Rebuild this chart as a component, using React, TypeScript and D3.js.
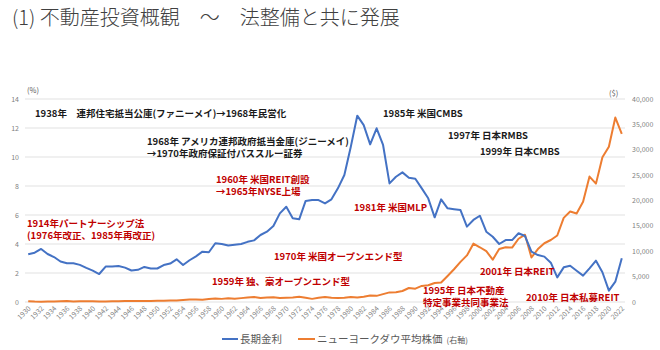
import * as d3 from 'd3'
import { useEffect, useRef } from 'react'

// categories: years 1930-2022
const years: number[] = d3.range(1930, 2023)

// 長期金利 (%)
const rates: number[] = [
  3.29, 3.40, 3.66, 3.31, 3.10, 2.79, 2.67, 2.67, 2.56, 2.35,
  2.16, 1.93, 2.44, 2.44, 2.48, 2.37, 2.17, 2.22, 2.42, 2.31,
  2.31, 2.55, 2.65, 2.94, 2.55, 2.88, 3.15, 3.47, 3.43, 4.05,
  4.00, 3.90, 3.95, 4.00, 4.15, 4.25, 4.62, 4.85, 5.24, 6.11,
  6.57, 5.77, 5.70, 6.97, 7.03, 7.03, 6.80, 7.08, 7.84, 8.76,
  10.71, 12.85, 12.20, 10.87, 11.98, 10.83, 8.18, 8.64, 8.94, 8.57,
  8.50, 7.84, 7.15, 5.84, 7.08, 6.46, 6.40, 6.34, 5.20, 5.66,
  5.95, 4.85, 4.50, 4.00, 4.27, 4.27, 4.74, 4.55, 3.47, 3.24,
  3.13, 2.71, 1.70, 2.39, 2.50, 2.16, 1.82, 2.32, 2.85, 2.05,
  0.78, 1.40, 3.01,
]

// ニューヨークダウ平均株価 ($)
const dow: number[] = [
  164, 78, 60, 100, 104, 144, 180, 121, 155, 150,
  131, 111, 119, 136, 152, 193, 177, 181, 177, 200,
  235, 269, 292, 281, 404, 488, 500, 436, 584, 679,
  616, 731, 652, 763, 874, 969, 786, 905, 944, 800,
  839, 890, 1020, 851, 616, 852, 1005, 831, 805, 839,
  964, 875, 1047, 1259, 1212, 1547, 1896, 1939, 2169, 2753,
  2634, 3169, 3301, 3754, 3834, 5117, 6448, 7908, 9181, 11497,
  10787, 10022, 8342, 10454, 10783, 10718, 12463, 13265, 8776, 10428,
  11578, 12218, 13104, 16577, 17823, 17425, 19763, 24719, 23327, 28538,
  30606, 36338, 33147,
]

const leftTicks: number[] = [0, 2, 4, 6, 8, 10, 12, 14]
const rightTicks: number[] = [0, 5000, 10000, 15000, 20000, 25000, 30000, 35000, 40000]
const xTickYears: number[] = years.filter(y => (y - 1930) % 2 === 0)

const seriesNames: string[] = ['長期金利', 'ニューヨークダウ平均株価']

// annotation texts (layout in px)
const notes = [
  { lines: ['1938年　連邦住宅抵当公庫(ファニーメイ)→1968年民営化'], x: 35, y: 117, red: false },
  { lines: ['1968年 アメリカ連邦政府抵当金庫(ジニーメイ)', '→1970年政府保証付パススルー証券'], x: 147, y: 145, red: false },
  { lines: ['1985年 米国CMBS'], x: 383, y: 117, red: false },
  { lines: ['1997年 日本RMBS'], x: 448, y: 139, red: false },
  { lines: ['1999年 日本CMBS'], x: 480, y: 155, red: false },
  { lines: ['1914年パートナーシップ法', '(1976年改正、1985年再改正)'], x: 27, y: 227, red: true },
  { lines: ['1960年 米国REIT創設', '→1965年NYSE上場'], x: 216, y: 183, red: true },
  { lines: ['1981年 米国MLP'], x: 354, y: 211, red: true },
  { lines: ['1970年 米国オープンエンド型'], x: 274, y: 260, red: true },
  { lines: ['1959年 独、豪オープンエンド型'], x: 212, y: 285, red: true },
  { lines: ['1995年 日本不動産', '特定事業共同事業法'], x: 423, y: 294, red: true },
  { lines: ['2001年 日本REIT'], x: 480, y: 275, red: true },
  { lines: ['2010年 日本私募REIT'], x: 526, y: 301, red: true },
]

const FONT = '"Noto Sans CJK JP", "Noto Sans", sans-serif'

function drawChart(el: SVGSVGElement) {
  const svg = d3.select(el)
  svg.selectAll('*').remove()

  const x = d3.scaleBand<number>().domain(years).range([25, 625])
  const cx = (yr: number) => (x(yr) as number) + x.bandwidth() / 2
  const yL = d3.scaleLinear().domain([0, 14]).range([302, 99])
  const yR = d3.scaleLinear().domain([0, 40000]).range([302, 99])

  // title
  svg.append('text').attr('x', 12).attr('y', 25)
    .attr('font-family', FONT).attr('font-size', 20).attr('font-weight', 300)
    .attr('fill', '#404040').text('(1) 不動産投資概観　～　法整備と共に発展')

  // grid
  svg.append('g').selectAll('line').data(leftTicks).enter().append('line')
    .attr('x1', 25).attr('x2', 625)
    .attr('y1', d => yL(d)).attr('y2', d => yL(d))
    .attr('stroke', '#d9d9d9').attr('stroke-width', 0.8)

  // left axis labels
  svg.append('g').selectAll('text').data(leftTicks).enter().append('text')
    .attr('x', 19).attr('y', d => yL(d) + 2.5).attr('text-anchor', 'end')
    .attr('font-family', FONT).attr('font-size', 7).attr('fill', '#7f7f7f')
    .text(d => d)
  svg.append('text').attr('x', 27).attr('y', 93)
    .attr('font-family', FONT).attr('font-size', 7.5).attr('fill', '#595959').text('(%)')

  // right axis labels
  svg.append('g').selectAll('text').data(rightTicks).enter().append('text')
    .attr('x', 632).attr('y', d => yR(d) + 2.5)
    .attr('font-family', FONT).attr('font-size', 7).attr('fill', '#7f7f7f')
    .text(d => d3.format(',')(d))
  svg.append('text').attr('x', 609).attr('y', 96)
    .attr('font-family', FONT).attr('font-size', 7.5).attr('fill', '#595959').text('($)')

  // x labels
  svg.append('g').selectAll('text').data(xTickYears).enter().append('text')
    .attr('text-anchor', 'end')
    .attr('transform', d => `translate(${cx(d) + 3},${309}) rotate(-45)`)
    .attr('font-family', FONT).attr('font-size', 7).attr('fill', '#7f7f7f')
    .text(d => d)

  // lines
  const lineL = d3.line<number>().x((_, i) => cx(years[i])).y(d => yL(d))
  const lineR = d3.line<number>().x((_, i) => cx(years[i])).y(d => yR(d))
  svg.append('path').datum(dow).attr('d', lineR)
    .attr('fill', 'none').attr('stroke', '#ED7D31').attr('stroke-width', 2)
    .attr('stroke-linejoin', 'round')
  svg.append('path').datum(rates).attr('d', lineL)
    .attr('fill', 'none').attr('stroke', '#4472C4').attr('stroke-width', 2)
    .attr('stroke-linejoin', 'round')

  // annotations
  const ng = svg.append('g').attr('font-family', FONT).attr('font-size', 9.5).attr('font-weight', 'bold')
  notes.forEach(n => {
    n.lines.forEach((ln, i) => {
      ng.append('text').attr('x', n.x).attr('y', n.y + i * 11.5)
        .attr('fill', n.red ? '#C00000' : '#1a1a1a').text(ln)
    })
  })

  // legend
  const lg = svg.append('g').attr('font-family', FONT).attr('fill', '#595959')
  lg.append('line').attr('x1', 222).attr('x2', 238).attr('y1', 339).attr('y2', 339)
    .attr('stroke', '#4472C4').attr('stroke-width', 2)
  lg.append('text').attr('x', 240).attr('y', 343).attr('font-size', 10.5).text(seriesNames[0])
  lg.append('line').attr('x1', 298).attr('x2', 315).attr('y1', 339).attr('y2', 339)
    .attr('stroke', '#ED7D31').attr('stroke-width', 2)
  const t2 = lg.append('text').attr('x', 317).attr('y', 343).attr('font-size', 10.5)
  t2.append('tspan').text(seriesNames[1])
  t2.append('tspan').attr('font-size', 8).attr('dx', 4).text('(右軸)')
}

export default function App() {
  const ref = useRef<SVGSVGElement>(null)
  useEffect(() => {
    if (ref.current) drawChart(ref.current)
  }, [])
  return (
    <svg ref={ref} width={660} height={350}
      style={{ position: 'absolute', left: 0, top: 0, background: '#fff' }} />
  )
}
